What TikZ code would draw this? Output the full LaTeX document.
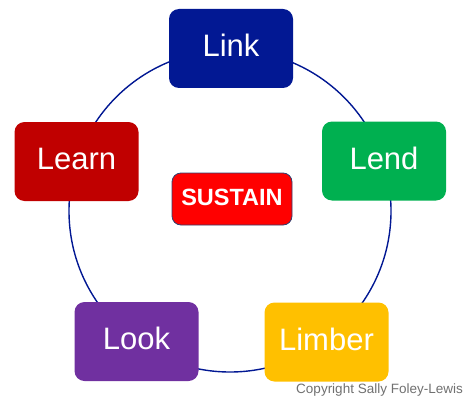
\documentclass[tikz,border=0pt]{standalone}
\usepackage{fontspec}
\setmainfont{Liberation Sans}
\definecolor{navy}{HTML}{021893}
\definecolor{cgreen}{HTML}{00B050}
\definecolor{cgold}{HTML}{FFC000}
\definecolor{cpurple}{HTML}{7030A0}
\definecolor{cdred}{HTML}{C00000}
\definecolor{cred}{HTML}{FF0000}
\definecolor{cborder}{HTML}{2F4070}
\definecolor{cgray}{HTML}{707070}
\begin{document}
\begin{tikzpicture}[x=1pt,y=-1pt,
  lbox/.style={rectangle,rounded corners=10pt,minimum width=124pt,minimum height=79pt,
    text=white,font=\fontsize{31}{31}\selectfont,inner sep=0pt,text height=22pt,text depth=6pt}]
\useasboundingbox (0,0) rectangle (473,401);
\node[draw=navy,line width=1.4pt,circle,minimum size=322pt,inner sep=0pt] (ring) at (230,211) {};
\node[lbox,fill=navy] (link) at (231,48.5) {Link};
\node[lbox,fill=cgreen] (lend) at (384,161) {Lend};
\node[lbox,fill=cgold] (limber) at (326.5,342) {Limber};
\node[lbox,fill=cpurple] (look) at (136.5,341.5) {Look};
\node[lbox,fill=cdred] (learn) at (76.5,161.5) {Learn};
\node[rectangle,rounded corners=9pt,fill=cred,draw=cborder,line width=0.8pt,
  minimum width=120pt,minimum height=52pt,inner sep=0pt,text=white,
  text height=17pt,text depth=5pt,
  font=\bfseries\fontsize{23.5}{23.5}\selectfont] (sustain) at (232,199) {SUSTAIN};
\node[text=cgray,font=\fontsize{13.5}{13.5}\selectfont,anchor=east,inner sep=0pt] (copy) at (463,390) {Copyright Sally Foley-Lewis};
\end{tikzpicture}
\end{document}
